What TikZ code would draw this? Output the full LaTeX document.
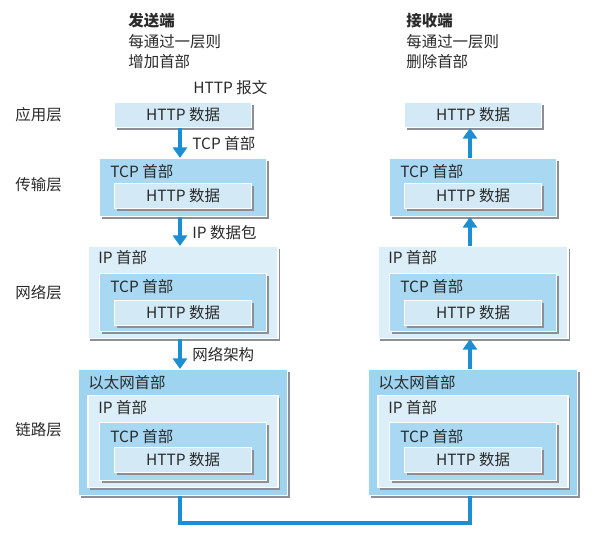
\documentclass[tikz,border=0pt]{standalone}
\usepackage{fontspec}
\setmainfont{Noto Sans CJK SC}
\usetikzlibrary{arrows.meta,shadows,positioning}

\definecolor{flowblue}{HTML}{1B8FD2}
\definecolor{httpfill}{HTML}{D3EAF6}
\definecolor{tcpfill}{HTML}{A8D8F2}
\definecolor{ipfill}{HTML}{DCEFF8}
\definecolor{ethfill}{HTML}{9FD4F0}
\definecolor{shadowgray}{HTML}{8C9094}
\definecolor{txtgray}{HTML}{2A2A2A}

\newcommand{\lblsize}{\fontsize{8.8}{10.5}\selectfont}

\tikzset{
    layer/.style={draw=white, line width=0.6pt, inner sep=0pt, text=txtgray, font=\lblsize,
        drop shadow={shadow xshift=1.3pt, shadow yshift=-1.3pt, fill=shadowgray, opacity=1}},
    httpbox/.style={layer, fill=httpfill, minimum width=2.74cm, minimum height=0.5cm},
    tcpbox/.style={layer, fill=tcpfill, minimum width=3.34cm, minimum height=1.16cm},
    ipbox/.style={layer, fill=ipfill, minimum width=3.8cm, minimum height=1.84cm},
    ethbox/.style={layer, fill=ethfill, minimum width=4.18cm, minimum height=2.52cm},
    hdr/.style={anchor=west, inner sep=0pt, text=txtgray, font=\lblsize},
    flow/.style={flowblue, line width=2.3pt, -{Triangle[width=8pt,length=6pt]}},
    wire/.style={flowblue, line width=2.3pt},
}

\begin{document}
\begin{tikzpicture}[x=0.02cm, y=-0.02cm]
    \useasboundingbox (0,0) rectangle (600,536);
    % layer names
    \node[hdr] (n-app) at (15,115) {应用层};
    \node[hdr] (n-trans) at (15,185) {传输层};
    \node[hdr] (n-net) at (15,293) {网络层};
    \node[hdr] (n-link) at (15,430) {链路层};
    % headings
    \node[hdr, font=\lblsize\bfseries] (s-title) at (128,21) {发送端};
    \node[hdr] (s-line1) at (128,42) {每通过一层则};
    \node[hdr] (s-line2) at (128,62) {增加首部};
    \node[hdr] (s-msg) at (193,88) {HTTP 报文};
    \node[hdr, font=\lblsize\bfseries] (r-title) at (406,21) {接收端};
    \node[hdr] (r-line1) at (406,42) {每通过一层则};
    \node[hdr] (r-line2) at (406,62) {删除首部};
    % the four layers, sender (s) and receiver (r)
    \foreach \s/\dx in {s/0,r/290}
    {
        \node[httpbox, anchor=north] (\s-app) at (183+\dx,102) {HTTP 数据};
        %
        \node[tcpbox, anchor=north] (\s-tcp2) at (183+\dx,158) {};
        \node[hdr] at (110+\dx,172) {TCP 首部};
        \node[httpbox, anchor=north] at (183+\dx,183) {HTTP 数据};
        %
        \node[ipbox, anchor=north] (\s-ip3) at (183+\dx,246) {};
        \node[hdr] at (98+\dx,258) {IP 首部};
        \node[tcpbox, anchor=north] at (183+\dx,273) {};
        \node[hdr] at (110+\dx,287) {TCP 首部};
        \node[httpbox, anchor=north] at (183+\dx,300) {HTTP 数据};
        %
        \node[ethbox, anchor=north] (\s-eth4) at (183+\dx,369) {};
        \node[hdr] at (88+\dx,383) {以太网首部};
        \node[ipbox, anchor=north] at (183+\dx,395) {};
        \node[hdr] at (98+\dx,408) {IP 首部};
        \node[tcpbox, anchor=north] at (183+\dx,422) {};
        \node[hdr] at (110+\dx,437) {TCP 首部};
        \node[httpbox, anchor=north] at (183+\dx,447) {HTTP 数据};
    }
    % going down
    \draw[flow] ([xshift=-0.06cm]s-app.south) -- ([xshift=-0.06cm]s-tcp2.north);
    \draw[flow] ([xshift=-0.06cm]s-tcp2.south) -- ([xshift=-0.06cm]s-ip3.north);
    \draw[flow] ([xshift=-0.06cm]s-ip3.south) -- ([xshift=-0.06cm]s-eth4.north);
    \node[hdr] (l-tcp) at (192,144) {TCP 首部};
    \node[hdr] (l-ip) at (192,233) {IP 数据包};
    \node[hdr] (l-eth) at (192,355) {网络架构};
    % going up
    \draw[flow] ([xshift=-0.06cm]r-tcp2.north) -- ([xshift=-0.06cm]r-app.south);
    \draw[flow] ([xshift=-0.06cm]r-ip3.north) -- ([xshift=-0.06cm]r-tcp2.south);
    \draw[flow] ([xshift=-0.06cm]r-eth4.north) -- ([xshift=-0.06cm]r-ip3.south);
    % the wire
    \draw[wire] ([xshift=-0.06cm]s-eth4.south) -- ++(0,27) -| ([xshift=-0.06cm]r-eth4.south);
\end{tikzpicture}
\end{document}
